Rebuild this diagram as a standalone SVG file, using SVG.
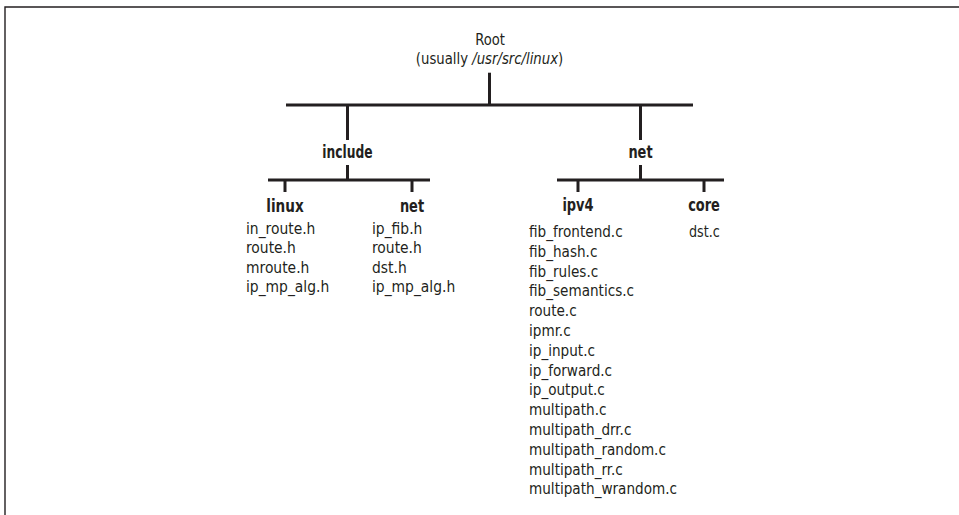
<svg xmlns="http://www.w3.org/2000/svg" width="959" height="515" viewBox="0 0 959 515">
<style>
text{font-family:"Liberation Sans Narrow","DejaVu Sans Condensed","Liberation Sans",sans-serif;font-size:16.5px;fill:#231f20}
.h{font-weight:bold;text-anchor:middle;font-size:18px}
.c{text-anchor:middle;font-size:16.2px}
.ln{stroke:#231f20;stroke-width:3;fill:none}
.frame{stroke:#231f20;stroke-width:1.4;fill:none}
</style>
<rect width="959" height="515" fill="#ffffff"/>
<path class="frame" d="M5,515 V7 H959"/>
<g id="connectors">
<path class="ln" d="M489.5,72.7 V105"/>
<path class="ln" d="M286,105 H693"/>
<path class="ln" d="M347.5,105 V140"/>
<path class="ln" d="M640.5,105 V140"/>
<path class="ln" d="M347.5,165 V180"/>
<path class="ln" d="M268,180 H430"/>
<path class="ln" d="M285,180 V192"/>
<path class="ln" d="M412,180 V192"/>
<path class="ln" d="M640.5,165 V180"/>
<path class="ln" d="M557,180 H724"/>
<path class="ln" d="M578,180 V192"/>
<path class="ln" d="M704,180 V192"/>
</g>
<g id="root">
<g transform="translate(490,0) scale(0.9,1)"><text class="c" x="0" y="45.2">Root</text></g>
<g transform="translate(489.5,0) scale(0.91,1)"><text class="c" x="0" y="64">(usually <tspan font-style="italic">/usr/src/linux</tspan>)</text></g>
</g>
<g id="include">
<g transform="translate(347.5,0) scale(0.76,1)"><text class="h" x="0" y="157.7">include</text></g>
</g>
<g id="net-top">
<g transform="translate(640.5,0) scale(0.8,1)"><text class="h" x="0" y="157.7">net</text></g>
</g>
<g id="linux">
<g transform="translate(285,0) scale(0.84,1)"><text class="h" x="0" y="212">linux</text></g>
<g transform="translate(246,0) scale(0.935,1)">
<text x="0" y="234">in_route.h</text>
<text x="0" y="253.3">route.h</text>
<text x="0" y="272.6">mroute.h</text>
<text x="0" y="291.9">ip_mp_alg.h</text>
</g>
</g>
<g id="include-net">
<g transform="translate(412,0) scale(0.8,1)"><text class="h" x="0" y="212">net</text></g>
<g transform="translate(372,0) scale(0.935,1)">
<text x="0" y="234">ip_fib.h</text>
<text x="0" y="253.3">route.h</text>
<text x="0" y="272.6">dst.h</text>
<text x="0" y="291.9">ip_mp_alg.h</text>
</g>
</g>
<g id="ipv4">
<g transform="translate(578,0) scale(0.8,1)"><text class="h" x="0" y="211">ipv4</text></g>
<g transform="translate(529,0) scale(0.916,1)">
<text x="0" y="237">fib_frontend.c</text>
<text x="0" y="256.8">fib_hash.c</text>
<text x="0" y="276.6">fib_rules.c</text>
<text x="0" y="296.4">fib_semantics.c</text>
<text x="0" y="316.2">route.c</text>
<text x="0" y="336">ipmr.c</text>
<text x="0" y="355.8">ip_input.c</text>
<text x="0" y="375.6">ip_forward.c</text>
<text x="0" y="395.4">ip_output.c</text>
<text x="0" y="415.2">multipath.c</text>
<text x="0" y="435">multipath_drr.c</text>
<text x="0" y="454.8">multipath_random.c</text>
<text x="0" y="474.6">multipath_rr.c</text>
<text x="0" y="494.4">multipath_wrandom.c</text>
</g>
</g>
<g id="core">
<g transform="translate(704,0) scale(0.8,1)"><text class="h" x="0" y="211">core</text></g>
<g transform="translate(689,0) scale(0.86,1)"><text x="0" y="237">dst.c</text></g>
</g>
</svg>
